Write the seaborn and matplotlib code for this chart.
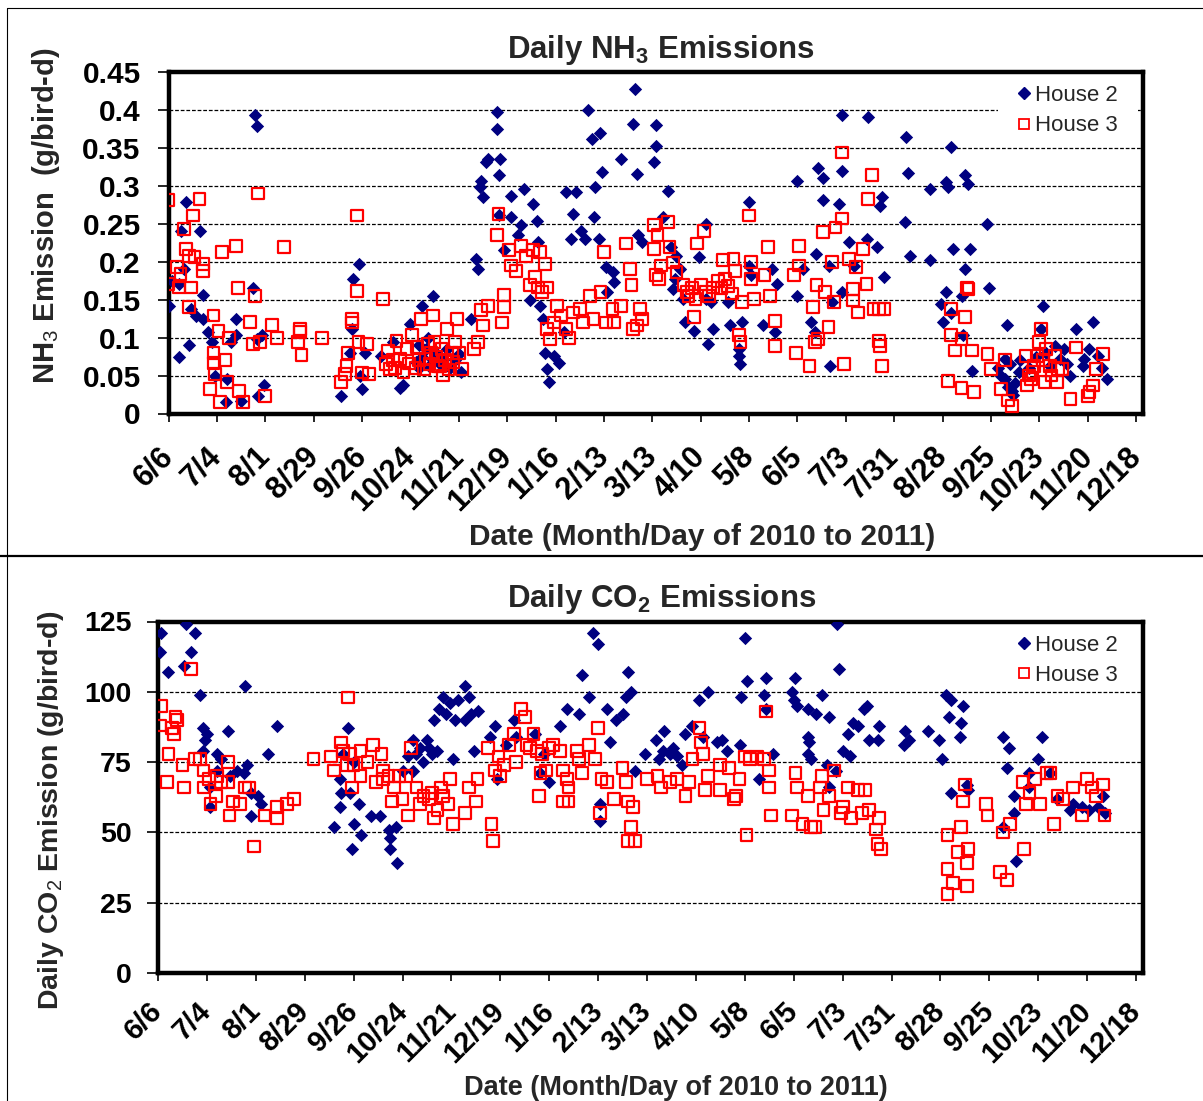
import numpy as np
import pandas as pd
import matplotlib
matplotlib.use("Agg")
import matplotlib.pyplot as plt
import seaborn as sns
from matplotlib.lines import Line2D
from matplotlib.patches import Rectangle

# ---------------------------------------------------------------------------
# Daily emissions, House 2 and House 3. Each entry: (days after 6/6/2010, value)
# ---------------------------------------------------------------------------
nh3_house2 = [
    (10, .279), (7, .241), (18, .240), (0, .142), (2, .175), (9, .19), (6, .171), (13, .138),
    (16, .129), (20, .125), (20, .156), (6, .075), (12, .09), (23, .107), (25, .094), (27, .05),
    (34, .045), (33, .015), (42, .017), (39, .125), (39, .103), (36, .094), (50, .393), (51, .379),
    (49, .165), (51, .098), (55, .037), (52, .023), (54, .103),
    (100, .023), (105, .08), (107, .177), (110, .197), (106, .111), (112, .032), (111, .05),
    (114, .08), (123, .076), (130, .094), (134, .034), (136, .037), (140, .118), (147, .142),
    (153, .155), (143, .068), (145, .06), (147, .075), (149, .085), (151, .062), (153, .07),
    (155, .08), (157, .065), (159, .072), (161, .085), (163, .06), (166, .07), (168, .078),
    (169, .055), (145, .09), (150, .1),
    (175, .125), (178, .204), (179, .19), (181, .307), (182, .285), (180, .298), (184, .331),
    (185, .336), (190, .397), (190, .375), (192, .336), (191, .314), (191, .261), (198, .259),
    (198, .287), (204, .248), (206, .296), (211, .276), (213, .254), (194, .215), (202, .235),
    (214, .226), (209, .149), (215, .142), (218, .08), (220, .041), (219, .058), (223, .076),
    (226, .067), (217, .125), (229, .107), (230, .292), (236, .292), (234, .263), (233, .23),
    (239, .241), (241, .23), (243, .4), (245, .362), (250, .369), (251, .318), (247, .298),
    (246, .259), (249, .23), (253, .193), (257, .186), (258, .173), (254, .16), (262, .336),
    (269, .381), (270, .427), (271, .316), (272, .235), (274, .226), (282, .38), (282, .353),
    (281, .331),
    (289, .293), (286, .259), (291, .219), (294, .208), (296, .19), (293, .177), (292, .164),
    (298, .151), (307, .206), (311, .25), (311, .151), (299, .12), (304, .109), (312, .092),
    (315, .111), (314, .147), (324, .147), (325, .116), (336, .279), (336, .195), (337, .182),
    (330, .076), (331, .065), (330, .085), (332, .12), (344, .116), (349, .19), (351, .107),
    (352, .171), (364, .307), (364, .155), (367, .19), (375, .21), (376, .323), (379, .31),
    (379, .281), (382, .195), (384, .147), (372, .12), (374, .107), (383, .063), (388, .276),
    (390, .393), (390, .319), (394, .226), (397, .195), (390, .16), (404, .23), (405, .391),
    (412, .274), (413, .285), (410, .219), (414, .18), (427, .364), (428, .317), (426, .252),
    (429, .208), (441, .296), (441, .202), (450, .305), (451, .298), (453, .351), (461, .314),
    (463, .303), (454, .217), (461, .19), (464, .217), (450, .16), (447, .144), (448, .12),
    (453, .133), (460, .103), (459, .155), (474, .25), (475, .166), (465, .056), (485, .116),
    (484, .072), (480, .06), (482, .05), (484, .045), (486, .035), (488, .03), (490, .04),
    (492, .055), (487, .065), (489, .025), (493, .07), (506, .142), (505, .111), (513, .089),
    (525, .111), (522, .05), (535, .12), (530, .072), (538, .076), (543, .045), (529, .063),
    (516, .072), (510, .063), (498, .06), (502, .075), (508, .08), (518, .085), (520, .065),
    (533, .085), (540, .06),
]

nh3_house3 = [
    (0, .281), (18, .283), (14, .261), (9, .243), (10, .217), (12, .208), (15, .206), (20, .197),
    (20, .188), (5, .193), (0, .171), (7, .184), (6, .166), (13, .166), (12, .14), (26, .129),
    (29, .109), (35, .1), (26, .08), (33, .07), (26, .067), (27, .052), (24, .032), (30, .015),
    (34, .041), (41, .03), (43, .015), (31, .213), (39, .221), (40, .165), (47, .121), (50, .155),
    (52, .29), (49, .092), (53, .094), (56, .023), (60, .117), (63, .099), (67, .219), (75, .094),
    (76, .111), (76, .107), (77, .077), (89, .1),
    (100, .041), (102, .052), (103, .063), (104, .08), (106, .12), (106, .125), (109, .261),
    (109, .161), (110, .094), (112, .054), (115, .092), (116, .052), (124, .151), (127, .083),
    (128, .059), (132, .096), (134, .072), (136, .054), (141, .103), (146, .125), (149, .072),
    (153, .129), (154, .094), (156, .063), (159, .05), (161, .111), (164, .08), (167, .125),
    (166, .094), (170, .059), (177, .085), (179, .094), (181, .136), (185, .142), (182, .116),
    (143, .06), (145, .07), (148, .058), (151, .065), (152, .08), (155, .075), (157, .062),
    (160, .07), (162, .058), (165, .068), (168, .08), (144, .088), (150, .092), (158, .085),
    (126, .065), (130, .07), (131, .06), (138, .085), (139, .066),
    (193, .12), (194, .14), (194, .156), (191, .263), (190, .235), (197, .215), (198, .195),
    (201, .188), (204, .221), (207, .208), (211, .215), (215, .213), (218, .197), (209, .169),
    (212, .18), (214, .166), (219, .166), (216, .16), (219, .111), (221, .098), (223, .12),
    (225, .142), (227, .129), (230, .111), (232, .1), (234, .133), (238, .138), (240, .12),
    (244, .155), (246, .125), (250, .16), (252, .213), (253, .12), (257, .138), (258, .12),
    (262, .142), (265, .224), (267, .19), (268, .169), (269, .111), (271, .116), (273, .138),
    (274, .125), (281, .248), (281, .217), (282, .182),
    (289, .252), (283, .235), (290, .219), (285, .195), (292, .199), (294, .186), (284, .177),
    (298, .169), (301, .155), (305, .151), (304, .127), (306, .224), (310, .241), (311, .16),
    (315, .166), (313, .155), (321, .202), (322, .177), (327, .204), (328, .188), (332, .147),
    (330, .103), (331, .094), (337, .2), (337, .177), (336, .261), (339, .151), (345, .182),
    (347, .219), (348, .155), (351, .122), (351, .089), (362, .182), (365, .221), (365, .195),
    (363, .08), (371, .063), (373, .14), (374, .094), (375, .169), (376, .098), (379, .239),
    (380, .16), (382, .114), (384, .2), (385, .147), (386, .245), (390, .257), (390, .344),
    (391, .065), (394, .204), (396, .164), (396, .149), (398, .193), (399, .133), (402, .217),
    (404, .171), (405, .283), (407, .314), (408, .138), (411, .138), (414, .138), (411, .096),
    (412, .089), (413, .063), (300, .16), (303, .165), (308, .17), (318, .175), (320, .165),
    (324, .168), (326, .158),
    (453, .138), (461, .127), (453, .103), (455, .083), (459, .098), (465, .083), (462, .166),
    (463, .164), (451, .043), (459, .034), (466, .028), (474, .078), (476, .059), (482, .032),
    (484, .07), (486, .017), (488, .01), (496, .076), (497, .037), (499, .045), (501, .063),
    (504, .094), (505, .111), (503, .076), (507, .041), (510, .063), (513, .076), (515, .059),
    (514, .041), (517, .059), (522, .019), (525, .087), (532, .023), (533, .028), (535, .037),
    (537, .059), (541, .078), (498, .05), (500, .055), (506, .07), (508, .085), (511, .05),
]

co2_house2 = [
    (2, 121), (1, 114), (6, 107), (16, 124), (21, 121), (19, 114), (15, 109), (24, 99), (26, 87),
    (27, 83), (26, 79), (28, 85), (40, 86), (34, 78), (36, 76), (41, 70), (34, 72), (30, 66),
    (30, 59), (45, 72), (51, 74), (49, 71), (53, 64), (57, 63), (59, 60), (53, 56), (50, 102),
    (68, 88), (63, 78),
    (109, 87), (106, 78), (104, 69), (105, 64), (104, 59), (101, 52), (110, 64), (115, 60),
    (112, 53), (111, 44), (116, 49), (112, 75), (122, 56), (127, 56), (132, 51), (133, 44),
    (137, 39), (133, 48), (136, 52), (140, 72), (146, 83), (148, 78), (154, 83), (157, 78),
    (152, 75), (146, 72), (169, 76), (163, 98), (161, 94), (158, 90), (167, 96), (176, 102),
    (178, 98), (179, 92), (176, 90), (183, 93), (193, 88), (190, 84), (181, 79), (194, 69),
    (199, 81), (204, 90), (205, 84), (216, 85), (219, 71), (224, 68), (221, 78), (230, 88),
    (234, 94), (241, 92), (243, 106), (247, 98), (249, 121), (252, 117), (257, 94), (259, 82),
    (262, 90), (266, 92), (269, 107), (268, 98), (271, 100), (253, 60), (253, 54), (273, 72),
    (279, 78), (150, 80), (155, 80), (160, 79), (143, 77), (165, 92), (170, 90), (172, 97),
    (285, 83), (290, 86), (289, 79), (293, 78), (297, 77), (302, 85), (306, 88), (310, 97),
    (315, 100), (312, 84), (320, 82), (323, 83), (326, 79), (333, 81), (334, 98), (337, 104),
    (336, 119), (348, 105), (347, 99), (348, 94), (352, 78), (344, 69), (365, 105), (363, 100),
    (366, 95), (364, 97), (372, 94), (380, 99), (377, 92), (384, 91), (389, 124), (390, 108),
    (372, 84), (373, 82), (372, 78), (374, 76), (392, 79), (396, 77), (383, 74), (388, 72),
    (384, 66), (404, 94), (406, 95), (398, 89), (395, 85), (401, 88), (413, 88), (412, 83),
    (407, 83), (428, 86), (427, 81), (430, 83), (441, 86), (447, 83), (449, 76), (451, 99),
    (454, 97), (453, 91), (461, 95), (460, 89), (459, 84), (454, 64), (463, 67), (464, 65),
    (484, 84), (487, 80), (486, 73), (506, 84), (504, 76), (499, 71), (490, 63), (490, 57),
    (491, 40), (484, 52), (499, 66), (511, 71), (515, 62), (522, 58), (524, 60), (529, 59),
    (533, 58), (538, 59), (541, 63), (542, 57), (287, 76), (295, 80), (300, 74),
]

co2_house3 = [
    (2, 95), (1, 88), (10, 91), (11, 90), (8, 87), (9, 85), (19, 108), (6, 78), (5, 68), (14, 74),
    (15, 66), (21, 76), (24, 76), (26, 72), (29, 69), (26, 66), (34, 70), (36, 68), (40, 75),
    (40, 68), (30, 60), (33, 63), (41, 56), (43, 61), (47, 60), (50, 66), (52, 66), (61, 56),
    (68, 55), (68, 59), (74, 60), (78, 62), (55, 45), (89, 76),
    (99, 77), (101, 72), (105, 82), (109, 98), (106, 79), (110, 78), (108, 74), (112, 74),
    (116, 79), (116, 70), (111, 66), (123, 81), (128, 78), (129, 72), (129, 69), (132, 70),
    (138, 70), (134, 61), (142, 70), (145, 80), (143, 56), (148, 66), (152, 63), (157, 64),
    (158, 55), (163, 63), (167, 69), (166, 60), (169, 53), (176, 57), (178, 66), (183, 69),
    (182, 61), (191, 53), (192, 47), (189, 80), (193, 72), (196, 70), (195, 77), (198, 74),
    (201, 81), (204, 85), (205, 75), (208, 94), (210, 91), (211, 81), (215, 85), (217, 79),
    (219, 71), (222, 72), (226, 81), (230, 79), (218, 63), (232, 72), (234, 69), (235, 66),
    (232, 61), (235, 61), (240, 79), (241, 76), (243, 71), (247, 81), (250, 76), (252, 87),
    (253, 57), (254, 69), (257, 68), (261, 62), (266, 73), (268, 68), (269, 61), (272, 59),
    (271, 52), (269, 47), (273, 47), (280, 69), (120, 75), (125, 68), (135, 66), (140, 62),
    (150, 60), (155, 62), (160, 58), (162, 66), (213, 80), (220, 78), (224, 80),
    (286, 70), (288, 66), (293, 68), (297, 69), (302, 63), (304, 68), (306, 76), (310, 87),
    (311, 82), (312, 78), (313, 65), (315, 70), (322, 74), (322, 65), (327, 73), (330, 62),
    (331, 63), (333, 69), (336, 77), (339, 76), (343, 77), (347, 76), (348, 93), (350, 72),
    (350, 66), (337, 49), (351, 56), (363, 56), (365, 71), (366, 66), (369, 53), (372, 63),
    (374, 52), (376, 52), (380, 70), (379, 66), (381, 58), (384, 63), (387, 72), (391, 57),
    (392, 59), (395, 66), (397, 55), (401, 65), (405, 65), (403, 57), (407, 58), (413, 55),
    (411, 51), (412, 46), (414, 44),
    (452, 49), (460, 52), (461, 61), (462, 67), (458, 43), (464, 44), (463, 39), (452, 37),
    (455, 32), (452, 28), (463, 31), (474, 60), (475, 56), (482, 36), (486, 33), (484, 50),
    (488, 53), (496, 44), (495, 68), (499, 64), (497, 60), (502, 69), (505, 60), (509, 71),
    (511, 71), (513, 53), (515, 63), (518, 62), (524, 66), (529, 56), (532, 69), (535, 66),
    (537, 63), (541, 67), (542, 56),
]

tick_days = list(range(0, 561, 28))
tick_labels = ["6/6", "7/4", "8/1", "8/29", "9/26", "10/24", "11/21", "12/19", "1/16",
               "2/13", "3/13", "4/10", "5/8", "6/5", "7/3", "7/31", "8/28", "9/25",
               "10/23", "11/20", "12/18"]
series_names = ["House 2", "House 3"]

nh3_ticks = [0, 0.05, 0.1, 0.15, 0.2, 0.25, 0.3, 0.35, 0.4, 0.45]
nh3_ticklabels = ["0", "0.05", "0.1", "0.15", "0.2", "0.25", "0.3", "0.35", "0.4", "0.45"]
co2_ticks = [0, 25, 50, 75, 100, 125]
co2_ticklabels = ["0", "25", "50", "75", "100", "125"]

# ---------------------------------------------------------------------------
sns.set_theme(style="white")
plt.rcParams["font.family"] = ["Liberation Sans", "DejaVu Sans"]
plt.rcParams["mathtext.fontset"] = "custom"
plt.rcParams["mathtext.rm"] = "Liberation Sans"
plt.rcParams["mathtext.bf"] = "Liberation Sans:bold"

W, H = 1203, 1101
fig = plt.figure(figsize=(W / 100, H / 100), dpi=100)
fig.patch.set_facecolor("white")

NAVY = "#000080"
RED = "#FF0000"


def frame(rows):
    d, v = zip(*rows)
    return pd.DataFrame({"day": d, "value": v})


def panel(rect, h2, h3, yticks, yticklabels, ylim, xfs, yfs, xpad, ypad, leg_anchor, blank=None):
    ax = fig.add_axes(rect)
    sns.scatterplot(data=frame(h2), x="day", y="value", marker="D", color=NAVY,
                    s=46, linewidth=0, ax=ax, legend=False, zorder=3)
    sns.scatterplot(data=frame(h3), x="day", y="value", marker="s", color=RED,
                    s=72, linewidth=1.6, ax=ax, legend=False, zorder=4)
    sq = ax.collections[-1]
    sq.set_facecolor("none")
    sq.set_edgecolor(RED)

    ax.set_xlim(0, 564)
    ax.set_ylim(*ylim)
    ax.set_xlabel("")
    ax.set_ylabel("")
    for sp in ax.spines.values():
        sp.set_visible(True)
        sp.set_color("black")
        sp.set_linewidth(3.2)
    ax.set_axisbelow(True)
    ax.yaxis.grid(True, color="black", linestyle=(0, (3, 1.5)), linewidth=0.9)
    ax.xaxis.grid(False)

    ax.tick_params(axis="x", direction="out", length=6, width=1.2, pad=xpad,
                   bottom=True, colors="black", labelsize=xfs)
    ax.tick_params(axis="y", direction="out", length=8, width=1.2, pad=ypad,
                   left=True, colors="black", labelsize=yfs)
    ax.set_xticks(tick_days, labels=tick_labels, fontsize=xfs, fontweight="bold",
                  rotation=45, ha="right", va="center", rotation_mode="anchor")
    ax.set_yticks(yticks, labels=yticklabels, fontsize=yfs, fontweight="bold")

    # white backing behind the legend entries
    if blank is not None:
        ax.add_patch(Rectangle(blank[:2], blank[2], blank[3], transform=ax.transAxes,
                               facecolor="white", edgecolor="none", zorder=1))

    handles = [
        Line2D([], [], marker="D", color=NAVY, linestyle="none", markersize=5.8),
        Line2D([], [], marker="s", markerfacecolor="none", markeredgecolor=RED,
               markeredgewidth=1.3, linestyle="none", markersize=7.5),
    ]
    leg = ax.legend(handles, series_names, loc="upper right", bbox_to_anchor=leg_anchor,
                    frameon=False, fontsize=16, handlelength=0.5, handletextpad=0.25,
                    labelspacing=0.42, borderpad=0, borderaxespad=0)
    leg.set_zorder(5)
    return ax


ax1 = panel([168.5 / W, 1 - 413.5 / H, (1143 - 168.5) / W, 341.5 / H],
            nh3_house2, nh3_house3, nh3_ticks, nh3_ticklabels, (0, 0.45),
            22, 21.5, 21.5, 12, (0.9745, 0.962),
            blank=(0.851, 0.87, 0.144, 0.11))
ax2 = panel([158 / W, 1 - 973 / H, (1143 - 158) / W, 351.5 / H],
            co2_house2, co2_house3, co2_ticks, co2_ticklabels, (0, 125),
            21, 20.5, 18.5, 11, (0.9745, 0.963))

# titles and axis labels
fig.text(661 / W, 1 - 58 / H, r"Daily NH$_\mathbf{3}$ Emissions", ha="center",
         va="baseline", fontsize=22.5, fontweight="bold")
fig.text(662 / W, 1 - 607 / H, r"Daily CO$_\mathbf{2}$ Emissions", ha="center",
         va="baseline", fontsize=22.5, fontweight="bold")
fig.text(702 / W, 1 - 545 / H, "Date (Month/Day of 2010 to 2011)", ha="center",
         va="baseline", fontsize=21.5, fontweight="bold")
fig.text(676 / W, 1 - 1095 / H, "Date (Month/Day of 2010 to 2011)", ha="center",
         va="baseline", fontsize=19.5, fontweight="bold")
fig.text(46 / W, 1 - 216 / H, r"NH$_\mathrm{3}$ Emission  (g/bird-d)", rotation=90,
         ha="center", va="center", fontsize=21, fontweight="bold")
fig.text(51 / W, 1 - 810 / H, r"Daily CO$_\mathrm{2}$ Emission (g/bird-d)", rotation=90,
         ha="center", va="center", fontsize=20.5, fontweight="bold")

# panel borders
fig.add_artist(Line2D([6.5 / W, 1], [1 - 8 / H, 1 - 8 / H], color="black", lw=0.8))
fig.add_artist(Line2D([6.5 / W, 6.5 / W], [0, 1 - 8 / H], color="black", lw=0.8))
fig.add_artist(Line2D([0, 1], [1 - 555.5 / H, 1 - 555.5 / H], color="black", lw=1.6))

fig.savefig("out.png", dpi=100, facecolor="white")
